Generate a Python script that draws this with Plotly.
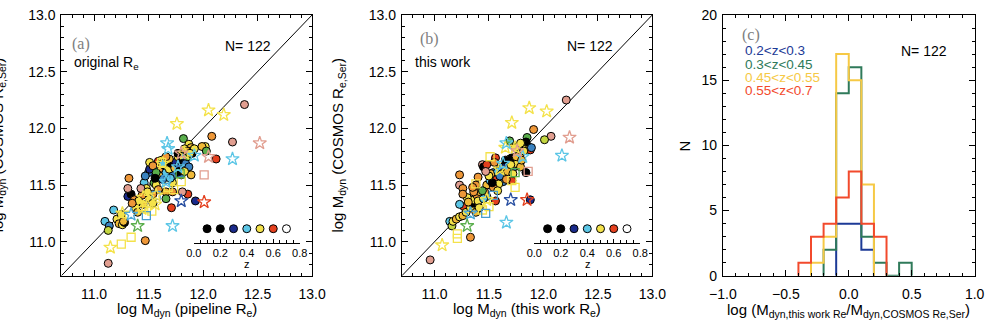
import plotly.graph_objects as go
from plotly.colors import sample_colorscale

W, H = 1002, 324

# ---------------- data: panel (a) ----------------
a_circ_x = [12.38, 12.08, 12.27, 12.12, 11.82, 11.87, 11.89, 11.89, 12.02, 11.99, 12.03, 11.71, 11.93, 11.86, 11.81,
            11.47, 11.13, 11.32, 11.10, 11.14, 11.13, 11.18, 11.21, 11.23, 11.26, 11.28, 11.25, 11.32, 11.34, 11.31,
            11.34, 11.38, 11.40, 11.37, 11.44, 11.46, 11.48, 11.50, 11.51, 11.55, 11.57, 11.59, 11.60, 11.62, 11.65,
            11.66, 11.69, 11.71, 11.72, 11.74, 11.75, 11.77, 11.78, 11.80, 11.81, 11.83, 11.84, 11.86, 11.87, 11.89,
            11.90, 11.92, 11.72, 11.72, 11.66, 11.66, 11.54, 11.51, 11.45, 11.41, 11.35, 11.54, 11.43, 11.59, 11.62,
            11.51, 11.54, 11.57, 11.63, 11.70, 11.80, 11.78, 11.83, 11.69, 11.66, 11.63, 11.31, 11.27, 11.47, 11.56,
            11.77, 11.85, 11.88, 11.49]
a_circ_y = [12.21, 11.93, 11.88, 11.73, 11.91, 11.86, 11.83, 11.80, 11.84, 11.84, 11.80, 11.30, 11.36, 11.42, 11.44,
            11.01, 10.81, 11.56, 11.18, 11.14, 11.10, 11.28, 11.20, 11.16, 11.15, 11.17, 11.24, 11.41, 11.40, 11.40,
            11.42, 11.30, 11.26, 11.37, 11.41, 11.52, 11.47, 11.61, 11.64, 11.52, 11.50, 11.46, 11.58, 11.65, 11.67,
            11.61, 11.64, 11.69, 11.58, 11.65, 11.70, 11.75, 11.67, 11.71, 11.76, 11.82, 11.69, 11.75, 11.66, 11.59,
            11.78, 11.82, 11.44, 11.52, 11.44, 11.38, 11.42, 11.38, 11.33, 11.36, 11.34, 11.34, 11.47, 11.71, 11.72,
            11.70, 11.67, 11.61, 11.55, 11.56, 11.59, 11.62, 11.62, 11.73, 11.75, 11.69, 11.47, 11.18, 11.58, 11.56,
            11.78, 11.80, 11.78, 11.44]
a_circ_z = [0.65, 0.55, 0.65, 0.60, 0.45, 0.50, 0.53, 0.15, 0.50, 0.53, 0.45, 0.60, 0.30, 0.60, 0.65,
            0.55, 0.65, 0.55, 0.40, 0.35, 0.48, 0.40, 0.50, 0.53, 0.50, 0.15, 0.50, 0.45, 0.53, 0.30,
            0.15, 0.50, 0.53, 0.55, 0.55, 0.40, 0.50, 0.35, 0.30, 0.45, 0.50, 0.55, 0.53, 0.55, 0.15,
            0.40, 0.50, 0.15, 0.35, 0.53, 0.30, 0.50, 0.35, 0.15, 0.40, 0.50, 0.35, 0.45, 0.35, 0.53,
            0.15, 0.50, 0.55, 0.50, 0.53, 0.45, 0.55, 0.50, 0.53, 0.50, 0.55, 0.50, 0.65, 0.60, 0.50,
            0.50, 0.55, 0.45, 0.35, 0.40, 0.35, 0.15, 0.50, 0.53, 0.55, 0.40, 0.65, 0.53, 0.35, 0.15,
            0.15, 0.53, 0.50, 0.50]

a_star_x = [12.05, 12.19, 11.76, 11.15, 11.57, 11.56, 11.26, 11.45, 11.83, 11.63, 11.44,
            11.67, 11.68, 12.27, 11.72, 11.34, 11.92, 11.66, 11.77, 11.80, 11.40, 12.52, 12.05, 11.80, 12.01]
a_star_y = [12.16, 12.12, 12.04, 10.95, 11.41, 11.33, 11.25, 11.39, 11.78, 11.69, 11.29,
            11.87, 11.82, 11.73, 11.14, 11.24, 11.76, 11.53, 11.66, 11.36, 11.14, 11.87, 11.75, 11.78, 11.35]
a_star_z = [0.50, 0.50, 0.50, 0.50, 0.50, 0.50, 0.50, 0.50, 0.50, 0.50, 0.50,
            0.40, 0.40, 0.40, 0.40, 0.38, 0.40, 0.40, 0.40, 0.32, 0.45, 0.65, 0.65, 0.65, 0.60]

a_sq_x = [11.25, 11.34, 11.53, 11.48, 11.73, 11.80, 11.62, 11.68, 11.44, 12.01, 11.79, 11.48, 11.57, 11.66]
a_sq_y = [10.98, 11.04, 11.27, 11.29, 11.46, 11.53, 11.70, 11.48, 11.31, 11.59, 11.60, 11.23, 11.41, 11.55]
a_sq_z = [0.50, 0.50, 0.50, 0.50, 0.50, 0.50, 0.50, 0.50, 0.50, 0.65, 0.45, 0.37, 0.37, 0.37]

# ---------------- data: panel (b) ----------------
b_circ_x = [12.21, 11.91, 12.07, 12.01, 11.85, 11.83, 11.86, 11.84, 11.81, 11.88, 11.89, 11.77, 10.96, 11.33,
            11.23, 11.23, 11.26, 11.27, 11.23, 11.44, 11.14, 11.16, 11.17, 11.20, 11.23, 11.26, 11.29, 11.33,
            11.35, 11.36, 11.39, 11.42, 11.38, 11.30, 11.26, 11.48, 11.51, 11.54, 11.57, 11.60, 11.63, 11.66,
            11.69, 11.56, 11.45, 11.63, 11.71, 11.72, 11.75, 11.77, 11.79, 11.84, 11.63, 11.59, 11.54, 11.48,
            11.46, 11.71, 11.78, 11.74, 11.56, 11.69, 11.79, 11.48, 11.88, 11.40, 11.52, 11.58, 11.62, 11.67,
            11.70, 11.53, 11.44, 11.36, 11.31, 11.40, 11.65, 11.75, 11.82, 11.60, 11.50, 11.66, 11.72, 11.38,
            11.41, 11.45, 11.58, 11.35, 11.47, 11.55, 11.80]
b_circ_y = [12.25, 11.99, 11.93, 11.90, 11.92, 11.86, 11.84, 11.88, 11.82, 11.81, 11.83, 11.84, 10.84, 11.04,
            11.59, 11.50, 11.47, 11.31, 11.33, 11.68, 11.18, 11.14, 11.18, 11.20, 11.22, 11.23, 11.26, 11.30,
            11.34, 11.37, 11.41, 11.44, 11.50, 11.39, 11.42, 11.50, 11.54, 11.61, 11.55, 11.64, 11.66, 11.69,
            11.73, 11.74, 11.66, 11.58, 11.54, 11.65, 11.69, 11.78, 11.66, 11.61, 11.53, 11.51, 11.48, 11.40,
            11.44, 11.74, 11.76, 11.83, 11.36, 11.89, 11.87, 11.68, 11.37, 11.57, 11.60, 11.62, 11.60, 11.62,
            11.68, 11.52, 11.45, 11.44, 11.35, 11.36, 11.72, 11.75, 11.80, 11.58, 11.58, 11.55, 11.60, 11.26,
            11.30, 11.38, 11.45, 11.48, 11.62, 11.70, 11.72]
b_circ_z = [0.65, 0.55, 0.65, 0.48, 0.45, 0.50, 0.53, 0.15, 0.50, 0.60, 0.35, 0.65, 0.65, 0.55,
            0.55, 0.65, 0.55, 0.60, 0.40, 0.65, 0.40, 0.48, 0.50, 0.53, 0.50, 0.53, 0.50, 0.50,
            0.15, 0.50, 0.55, 0.53, 0.55, 0.50, 0.55, 0.53, 0.40, 0.35, 0.60, 0.50, 0.35, 0.30,
            0.50, 0.60, 0.15, 0.60, 0.60, 0.35, 0.50, 0.35, 0.53, 0.15, 0.35, 0.50, 0.55, 0.50,
            0.55, 0.15, 0.50, 0.50, 0.60, 0.45, 0.50, 0.60, 0.30, 0.55, 0.53, 0.40, 0.50, 0.53,
            0.50, 0.15, 0.45, 0.55, 0.53, 0.50, 0.15, 0.53, 0.50, 0.35, 0.50, 0.55, 0.50, 0.53,
            0.50, 0.40, 0.50, 0.55, 0.65, 0.55, 0.53]

b_star_x = [11.87, 12.03, 11.71, 11.07, 11.65, 11.48, 11.60, 11.74,
            11.66, 12.17, 11.66, 11.33, 11.81, 11.63, 11.70, 11.30, 12.24, 11.76, 11.85]
b_star_y = [12.18, 12.15, 12.05, 10.97, 11.83, 11.37, 11.64, 11.83,
            11.87, 11.76, 11.17, 11.25, 11.75, 11.69, 11.37, 11.14, 11.92, 11.80, 11.37]
b_star_z = [0.50, 0.50, 0.50, 0.50, 0.50, 0.50, 0.50, 0.50,
            0.40, 0.40, 0.40, 0.38, 0.40, 0.40, 0.32, 0.45, 0.65, 0.65, 0.60]

b_sq_x = [11.21, 11.21, 11.71, 11.74, 11.50, 11.51, 11.38, 11.44, 11.47, 11.54, 11.74, 11.86]
b_sq_y = [11.07, 11.03, 11.54, 11.48, 11.31, 11.75, 11.51, 11.28, 11.25, 11.41, 11.61, 11.62]
b_sq_z = [0.50, 0.50, 0.50, 0.50, 0.50, 0.50, 0.50, 0.50, 0.37, 0.37, 0.45, 0.65]

# ---------------- data: panel (c) histograms ----------------
hist_labels = ["0.2<z<0.3", "0.3<z<0.45", "0.45<z<0.55", "0.55<z<0.7"]
hist_colors = ["#1c3a96", "#2f7a5a", "#f6c945", "#f24a2c"]
hist_start = [-0.1, -0.2, -0.3, -0.4]
hist_counts = [
    [4, 4, 2],
    [2, 14, 16, 3, 1, 0, 1],
    [1, 3, 17, 15, 7],
    [1, 3, 4, 6, 8, 4, 3],
]
bin_width = 0.1
n_total = 122

# colour scale for redshift
z_legend = [0.1, 0.2, 0.3, 0.4, 0.5, 0.6, 0.7]
z_ticks = [0.0, 0.2, 0.4, 0.6, 0.8]
zscale = [
    [0.0, "#000000"], [0.25, "#000000"], [0.375, "#1a2a8a"], [0.44, "#3a84c2"],
    [0.5, "#5cc6e6"], [0.5625, "#5aae4c"], [0.6, "#c4d640"], [0.625, "#f4e24a"],
    [0.66, "#f0bc38"], [0.69, "#ee9438"], [0.75, "#e4401e"], [0.81, "#e09a8c"],
    [0.875, "#ffffff"], [1.0, "#ffffff"],
]


def zcol(zs):
    return sample_colorscale(zscale, [z / 0.8 for z in zs])


def fx(px):
    return px / W


def fy(py):
    return 1 - py / H


FONT = "Liberation Sans"
fig = go.Figure()

panels = [
    ("x", "y", a_circ_x, a_circ_y, a_circ_z, a_sq_x, a_sq_y, a_sq_z, a_star_x, a_star_y, a_star_z),
    ("x2", "y2", b_circ_x, b_circ_y, b_circ_z, b_sq_x, b_sq_y, b_sq_z, b_star_x, b_star_y, b_star_z),
]
for xa, ya, cx, cy, cz, sx, sy, sz, tx, ty, tz in panels:
    fig.add_trace(go.Scatter(x=[10.7, 13.0], y=[10.7, 13.0], mode="lines",
                             line=dict(color="black", width=1), xaxis=xa, yaxis=ya, showlegend=False))
    fig.add_trace(go.Scatter(x=cx, y=cy, mode="markers", xaxis=xa, yaxis=ya, showlegend=False,
                             marker=dict(symbol="circle", size=8, color=zcol(cz),
                                         line=dict(color="black", width=1))))
    fig.add_trace(go.Scatter(x=sx, y=sy, mode="markers", xaxis=xa, yaxis=ya, showlegend=False,
                             marker=dict(symbol="square-open", size=8, color=zcol(sz),
                                         line=dict(width=1.3))))
    fig.add_trace(go.Scatter(x=tx, y=ty, mode="markers", xaxis=xa, yaxis=ya, showlegend=False,
                             marker=dict(symbol="star-open", size=10, color=zcol(tz),
                                         line=dict(width=1.3))))

# inset z-scales
for xa, ya in [("x4", "y4"), ("x5", "y5")]:
    fig.add_trace(go.Scatter(x=z_legend, y=[0.5] * len(z_legend), mode="markers", xaxis=xa, yaxis=ya,
                             showlegend=False,
                             marker=dict(symbol="circle", size=8, color=zcol(z_legend),
                                         line=dict(color="black", width=1))))

# histograms (step outlines)
for lab, col, st, cnt in zip(hist_labels, hist_colors, hist_start, hist_counts):
    edges = [st + i * bin_width for i in range(len(cnt) + 1)]
    xs = [edges[0]] + edges + [edges[-1]]
    ys = [0] + list(cnt) + [cnt[-1]] + [0]
    fig.add_trace(go.Scatter(x=xs, y=ys, mode="lines", line=dict(color=col, width=2, shape="hv"),
                             xaxis="x3", yaxis="y3", showlegend=False, cliponaxis=True))

axis_common = dict(showline=True, linecolor="black", linewidth=1, mirror="allticks",
                   ticks="inside", ticklen=6, tickcolor="black", tickwidth=1,
                   showgrid=False, zeroline=False, ticklabeloverflow="allow",
                   tickfont=dict(family=FONT, size=14, color="black"))
minor_common = dict(ticks="inside", ticklen=3, tickcolor="black")

ydom = [fy(281.7), fy(7.3)]
mass_ticks = [11.0, 11.5, 12.0, 12.5, 13.0]
mass_range = [10.7, 13.0005]
layout = dict(
    width=W, height=H, margin=dict(l=0, r=0, t=0, b=0),
    paper_bgcolor="white", plot_bgcolor="white",
    xaxis=dict(domain=[fx(48.7), fx(306.7)], range=mass_range, anchor="y", tickvals=mass_ticks,
               tickformat=".1f", minor=dict(dtick=0.1, **minor_common), ticklabelstandoff=5,
               **axis_common),
    yaxis=dict(domain=ydom, range=mass_range, anchor="x", tickvals=mass_ticks, tickformat=".1f",
               minor=dict(dtick=0.1, **minor_common), ticklabelstandoff=2, **axis_common),
    xaxis2=dict(domain=[fx(399), fx(656.7)], range=mass_range, anchor="y2", tickvals=mass_ticks,
                tickformat=".1f", minor=dict(dtick=0.1, **minor_common), ticklabelstandoff=5,
                **axis_common),
    yaxis2=dict(domain=ydom, range=mass_range, anchor="x2", tickvals=mass_ticks, tickformat=".1f",
                minor=dict(dtick=0.1, **minor_common), ticklabelstandoff=2, **axis_common),
    xaxis3=dict(domain=[fx(729.3), fx(988.3)], range=[-1.0, 1.0005], anchor="y3",
                tickvals=[-1.0, -0.5, 0.0, 0.5, 1.0], tickformat=".1f", ticklabelstandoff=5,
                minor=dict(dtick=0.1, **minor_common), **axis_common),
    yaxis3=dict(domain=ydom, range=[0, 20.005], anchor="x3", tickvals=[0, 5, 10, 15, 20],
                ticklabelstandoff=2, minor=dict(dtick=1, **minor_common), **axis_common),
)

inset_common = dict(range=[0, 0.8005], tickvals=z_ticks, tickformat=".1f", showline=True, linecolor="black",
                    linewidth=1, ticks="inside", ticklen=4, tickcolor="black", showgrid=False,
                    zeroline=False, side="bottom", ticklabeloverflow="allow",
                    minor=dict(ticks="inside", dtick=0.05, ticklen=2.5, tickcolor="black"),
                    tickfont=dict(family=FONT, size=11, color="black"))
yin = [fy(246.7), fy(217.7)]
layout["xaxis4"] = dict(domain=[fx(185), fx(294)], anchor="y4", **inset_common)
layout["yaxis4"] = dict(domain=yin, range=[0, 1], anchor="x4", visible=False)
layout["xaxis5"] = dict(domain=[fx(185 + 350.3), fx(294 + 350.3)], anchor="y5", **inset_common)
layout["yaxis5"] = dict(domain=yin, range=[0, 1], anchor="x5", visible=False)
fig.update_layout(**layout)


def ann(text, x, y, size=15, color="black", family=FONT, xanchor="center", angle=0):
    fig.add_annotation(text=text, x=fx(x), y=fy(y), xref="paper", yref="paper", showarrow=False,
                       xanchor=xanchor, yanchor="middle", textangle=angle,
                       font=dict(family=family, size=size, color=color))


# axis titles
ann("log M<sub>dyn</sub> (pipeline R<sub>e</sub>)", 178, 317)
ann("log M<sub>dyn</sub> (this work R<sub>e</sub>)", 528, 317)
ann("log (M<sub>dyn,this work Re</sub>/M<sub>dyn,COSMOS Re,Ser</sub>)", 859, 318, size=15)
ann("log M<sub>dyn</sub> (COSMOS R<sub>e,Ser</sub>)", -16, 144, angle=-90)
ann("log M<sub>dyn</sub> (COSMOS R<sub>e,Ser</sub>)", 334, 144, angle=-90)
ann("N", 690, 145, angle=-90)

# panel labels
ann("(a)", 69, 38, size=16, color="#808080", family="Liberation Serif")
ann("(b)", 427, 33, size=16, color="#808080", family="Liberation Serif")
ann("(c)", 758, 28, size=16, color="#808080", family="Liberation Serif")
ann("original R<sub>e</sub>", 60, 58, size=14, xanchor="left")
ann("this work", 410, 57, size=14, xanchor="left")
ann(f"N= {n_total}", 241, 40, size=14)
ann(f"N= {n_total}", 593, 40, size=14)
ann(f"N= {n_total}", 936, 45, size=14)

# inset titles
ann("z", 240, 269, size=11)
ann("z", 240 + 350.3, 269, size=11)

# histogram legend
for i, (lab, col) in enumerate(zip(hist_labels, hist_colors)):
    ann(lab.replace("<", "&lt;"), 750, 45 + 14 * i, size=13.5, color=col, xanchor="left")

fig.write_html("out.html")
